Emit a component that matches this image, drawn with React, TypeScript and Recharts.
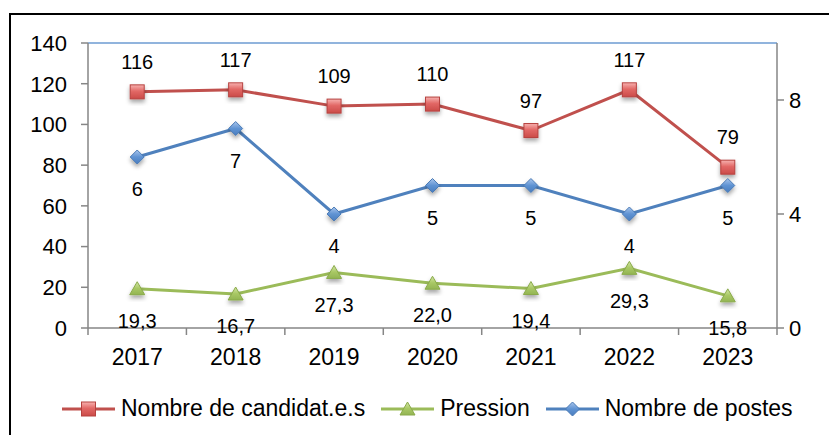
import React from 'react';
import { LineChart, Line, XAxis, YAxis, ReferenceLine, LabelList, Legend } from 'recharts';

const YEARS = ['2017', '2018', '2019', '2020', '2021', '2022', '2023'];
const CANDIDATS = [116, 117, 109, 110, 97, 117, 79];
const PRESSION = [19.3, 16.7, 27.3, 22.0, 19.4, 29.3, 15.8];
const POSTES = [6, 7, 4, 5, 5, 4, 5];
const LEFT_TICKS = [0, 20, 40, 60, 80, 100, 120, 140];
const RIGHT_TICKS = [0, 4, 8];

const SERIES = [
  { key: 'candidats', name: 'Nombre de candidat.e.s', color: '#C0504D', shape: 'square' },
  { key: 'pression', name: 'Pression', color: '#9BBB59', shape: 'triangle' },
  { key: 'postes', name: 'Nombre de postes', color: '#4F81BD', shape: 'diamond' },
];

const data = YEARS.map((year, i) => ({
  year,
  candidats: CANDIDATS[i],
  pression: PRESSION[i],
  postes: POSTES[i],
}));

const FONT = '"Liberation Sans", Arial, sans-serif';
const AXIS_GREY = '#868686';
const HALF_STEP = (777 - 88) / YEARS.length / 2;

// marker shapes, Excel style with a little gradient and shadow
const Marker = ({ shape, cx, cy, shadow = true }: { shape: string; cx: number; cy: number; shadow?: boolean }) => {
  const filter = shadow ? 'url(#mkShadow)' : undefined;
  if (shape === 'square') {
    return <rect x={cx - 7} y={cy - 7} width={14} height={14} fill="url(#gRed)" stroke="#B6423F" strokeWidth={1} filter={filter} />;
  }
  if (shape === 'triangle') {
    return (
      <path
        d={`M${cx},${cy - 7} L${cx + 7.5},${cy + 6} L${cx - 7.5},${cy + 6} Z`}
        fill="url(#gGreen)"
        stroke="#8AAA4A"
        strokeWidth={1}
        filter={filter}
      />
    );
  }
  return (
    <path
      d={`M${cx},${cy - 7} L${cx + 7},${cy} L${cx},${cy + 7} L${cx - 7},${cy} Z`}
      fill="url(#gBlue)"
      stroke="#4A7AB5"
      strokeWidth={1}
      filter={filter}
    />
  );
};

const makeDot = (shape: string) => (props: any) => {
  if (props.cx == null || props.cy == null) return <g key={`e-${props.index}`} />;
  return <Marker key={`${shape}-${props.index}`} shape={shape} cx={props.cx} cy={props.cy} />;
};

const XTick = (props: any) => {
  const { x, y, payload, index } = props;
  return (
    <g>
      <line x1={x - HALF_STEP} x2={x - HALF_STEP} y1={y} y2={y + 7} stroke={AXIS_GREY} strokeWidth={1.5} />
      {index === YEARS.length - 1 && (
        <line x1={x + HALF_STEP} x2={x + HALF_STEP} y1={y} y2={y + 7} stroke={AXIS_GREY} strokeWidth={1.5} />
      )}
      <text x={x} y={y + 37} textAnchor="middle" fontSize={23} fill="#000">
        {payload.value}
      </text>
    </g>
  );
};

const LegendContent = () => (
  <div style={{ display: 'flex', alignItems: 'center', paddingLeft: 62, fontFamily: FONT, fontSize: 23, color: '#000' }}>
    {SERIES.map((s) => (
      <div key={s.key} style={{ display: 'flex', alignItems: 'center', marginRight: 16 }}>
        <svg width={53} height={22} style={{ marginRight: 6 }}>
          <line x1={0} x2={53} y1={11} y2={11} stroke={s.color} strokeWidth={3} />
          <Marker shape={s.shape} cx={26.5} cy={11} shadow={false} />
        </svg>
        <span style={{ whiteSpace: 'nowrap' }}>{s.name}</span>
      </div>
    ))}
  </div>
);

const fmtComma = (v: any) => Number(v).toFixed(1).replace('.', ',');

export default function App() {
  return (
    <div
      style={{
        position: 'absolute',
        left: 0,
        top: 0,
        width: 829,
        height: 435,
        overflow: 'hidden',
        background: '#fff',
        fontFamily: FONT,
      }}
    >
      <div
        style={{
          position: 'absolute',
          left: 9,
          top: 13,
          width: 1000,
          height: 1000,
          border: '2px solid #000',
        }}
      />
      <div style={{ position: 'absolute', left: 0, top: 0 }}>
        <LineChart width={829} height={435} data={data} margin={{ top: 43, right: 0, left: 0, bottom: 67 }}>
          <defs>
            <linearGradient id="gRed" x1="0" y1="0" x2="0" y2="1">
              <stop offset="0%" stopColor="#F7B2B0" />
              <stop offset="45%" stopColor="#E26866" />
              <stop offset="100%" stopColor="#CB4B48" />
            </linearGradient>
            <linearGradient id="gGreen" x1="0" y1="0" x2="0" y2="1">
              <stop offset="0%" stopColor="#D5E8A8" />
              <stop offset="50%" stopColor="#A9C865" />
              <stop offset="100%" stopColor="#93B553" />
            </linearGradient>
            <linearGradient id="gBlue" x1="0" y1="0" x2="0" y2="1">
              <stop offset="0%" stopColor="#A9C5EC" />
              <stop offset="50%" stopColor="#5F93D3" />
              <stop offset="100%" stopColor="#4A7DBE" />
            </linearGradient>
            <filter id="mkShadow" x="-50%" y="-50%" width="200%" height="200%">
              <feDropShadow dx="0" dy="3" stdDeviation="2" floodColor="#000" floodOpacity="0.35" />
            </filter>
          </defs>
          <XAxis
            dataKey="year"
            type="category"
            interval={0}
            padding={{ left: HALF_STEP, right: HALF_STEP }}
            axisLine={{ stroke: AXIS_GREY, strokeWidth: 1.5 }}
            tickLine={false}
            tickSize={0}
            tickMargin={0}
            height={40}
            tick={<XTick />}
          />
          <YAxis
            yAxisId="left"
            domain={[0, 140]}
            ticks={LEFT_TICKS}
            interval={0}
            width={88}
            axisLine={{ stroke: AXIS_GREY, strokeWidth: 1.5 }}
            tickLine={{ stroke: AXIS_GREY, strokeWidth: 1.5 }}
            tickSize={7}
            tickMargin={14}
            tick={{ fontSize: 22, fill: '#000' }}
          />
          <YAxis
            yAxisId="right"
            orientation="right"
            domain={[0, 10]}
            ticks={RIGHT_TICKS}
            interval={0}
            width={52}
            axisLine={{ stroke: AXIS_GREY, strokeWidth: 1.5 }}
            tickLine={{ stroke: AXIS_GREY, strokeWidth: 1.5 }}
            tickSize={7}
            tickMargin={5}
            tick={{ fontSize: 22, fill: '#000' }}
          />
          <ReferenceLine yAxisId="left" y={140} stroke="#6C9BD2" strokeWidth={1.5} />
          <Legend
            verticalAlign="middle"
            layout="horizontal"
            wrapperStyle={{ top: 395, left: 0, width: 829 }}
            content={<LegendContent />}
          />
          <Line
            yAxisId="left"
            dataKey="candidats"
            name="Nombre de candidat.e.s"
            stroke="#C0504D"
            strokeWidth={3}
            dot={makeDot('square')}
            activeDot={false}
            isAnimationActive={false}
          >
            <LabelList dataKey="candidats" position="top" offset={23} fontSize={20} fill="#000" />
          </Line>
          <Line
            yAxisId="left"
            dataKey="pression"
            name="Pression"
            stroke="#9BBB59"
            strokeWidth={3}
            dot={makeDot('triangle')}
            activeDot={false}
            isAnimationActive={false}
          >
            <LabelList dataKey="pression" position="bottom" offset={25} fontSize={20} fill="#000" formatter={fmtComma} />
          </Line>
          <Line
            yAxisId="right"
            dataKey="postes"
            name="Nombre de postes"
            stroke="#4F81BD"
            strokeWidth={3}
            dot={makeDot('diamond')}
            activeDot={false}
            isAnimationActive={false}
          >
            <LabelList dataKey="postes" position="bottom" offset={25} fontSize={20} fill="#000" />
          </Line>
        </LineChart>
      </div>
    </div>
  );
}
